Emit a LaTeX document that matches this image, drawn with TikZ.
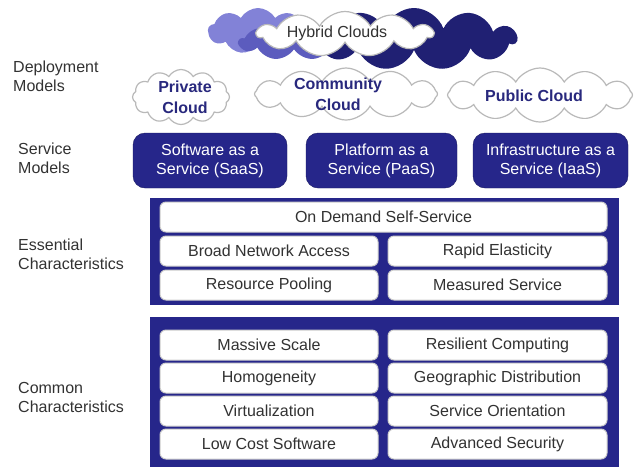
\documentclass[tikz,border=0pt]{standalone}
\usepackage{fontspec}
\setmainfont{Liberation Sans}
\usetikzlibrary{shapes.symbols}
\definecolor{navy}{RGB}{38,38,138}
\definecolor{navydark}{RGB}{32,32,115}
\definecolor{lightblue}{RGB}{130,130,215}
\definecolor{midblue}{RGB}{92,92,190}
\definecolor{cloudline}{RGB}{185,185,185}
\definecolor{labelgray}{RGB}{50,50,50}
\definecolor{cloudtext}{RGB}{40,40,125}
\tikzset{
    puff/.style={cloud, cloud puffs=12, cloud puff arc=120, cloud ignores aspect, inner sep=0pt, line width=1.2pt},
    sidelabel/.style={anchor=west, align=left, text=labelgray, inner sep=0pt, font=\fontsize{16}{19}\selectfont},
    deptext/.style={align=center, text=cloudtext, inner sep=0pt, font=\bfseries\fontsize{16}{21}\selectfont},
    svcbox/.style={rectangle, rounded corners=12pt, fill=navy, draw=navy!70!black, minimum height=55pt, text=white, align=center, inner sep=0pt, font=\fontsize{16}{19}\selectfont},
    panel/.style={rectangle, fill=navy, minimum width=469pt, inner sep=0pt},
    feature/.style={rectangle, rounded corners=6pt, fill=white, draw=black!20, line width=1pt, minimum height=30pt, inner sep=0pt, text=labelgray, font=\fontsize{16}{19}\selectfont}
}
\begin{document}
\begin{tikzpicture}[x=1pt, y=-1pt]
            \useasboundingbox (0,0) rectangle (634,467);
            \node[puff, cloud puffs=9, fill=lightblue, minimum width=100pt, minimum height=46pt] (hyblight) at (258,31) {};
            \node[puff, cloud puffs=9, fill=midblue, minimum width=110pt, minimum height=36pt] (hybmid) at (294,42) {};
            \node[puff, cloud puffs=11, cloud puff arc=140, fill=navydark, minimum width=205pt, minimum height=62pt] (hybdark) at (414,39) {};
            \node[puff, cloud puffs=11, fill=white, draw=cloudline, minimum width=176pt, minimum height=45pt] (hybwhite) at (345,34) {};
            \node[text=labelgray, font=\fontsize{16}{19}\selectfont] (hybtext) at (337,33) {Hybrid Clouds};

            \node[puff, fill=white, draw=cloudline, minimum width=97pt, minimum height=55pt] (private) at (181,97) {};
            \node[puff, fill=white, draw=cloudline, minimum width=183pt, minimum height=52pt] (community) at (346,94) {};
            \node[puff, fill=white, draw=cloudline, minimum width=185pt, minimum height=54pt] (public) at (540,95) {};
            \node[deptext] (privtext) at (185,97) {Private\\Cloud};
            \node[deptext] (commtext) at (338,94) {Community\\Cloud};
            \node[deptext] (pubtext) at (534,96) {Public Cloud};

            \node[sidelabel] (deplabel) at (13,76) {Deployment\\Models};
            \node[sidelabel] (svclabel) at (18,158) {Service\\Models};
            \node[sidelabel] (esslabel) at (18,254) {Essential\\Characteristics};
            \node[sidelabel] (comlabel) at (18,397) {Common\\Characteristics};

            \node[svcbox, minimum width=154pt] (saas) at (210,160.5) {Software as a\\Service (SaaS)};
            \node[svcbox, minimum width=151pt] (paas) at (381.5,160.5) {Platform as a\\Service (PaaS)};
            \node[svcbox, minimum width=155pt] (iaas) at (550.5,160.5) {Infrastructure as a\\Service (IaaS)};

            \node[panel, minimum height=107pt] (essential) at (384.5,251.5) {};
            \node[feature, minimum width=447pt] (ondemand) at (383.5,217) {On Demand Self-Service};
            \node[feature, minimum width=218pt] (network) at (269,251) {Broad Network Access};
            \node[feature, minimum width=219pt] (elastic) at (497.5,251) {Rapid Elasticity};
            \node[feature, minimum width=218pt] (pooling) at (269,285) {Resource Pooling};
            \node[feature, minimum width=219pt] (measured) at (497.5,285) {Measured Service};

            \node[panel, minimum height=150pt] (common) at (384.5,392) {};
            \foreach \lt/\rt [count=\i] in {Massive Scale/Resilient Computing, Homogeneity/Geographic Distribution, Virtualization/Service Orientation, Low Cost Software/Advanced Security}
            {
                \node[feature, minimum width=218pt] (cl\i) at (269,312+33*\i) {\lt};
                \node[feature, minimum width=219pt] (cr\i) at (497.5,312+33*\i) {\rt};
            }
        \end{tikzpicture}
\end{document}
